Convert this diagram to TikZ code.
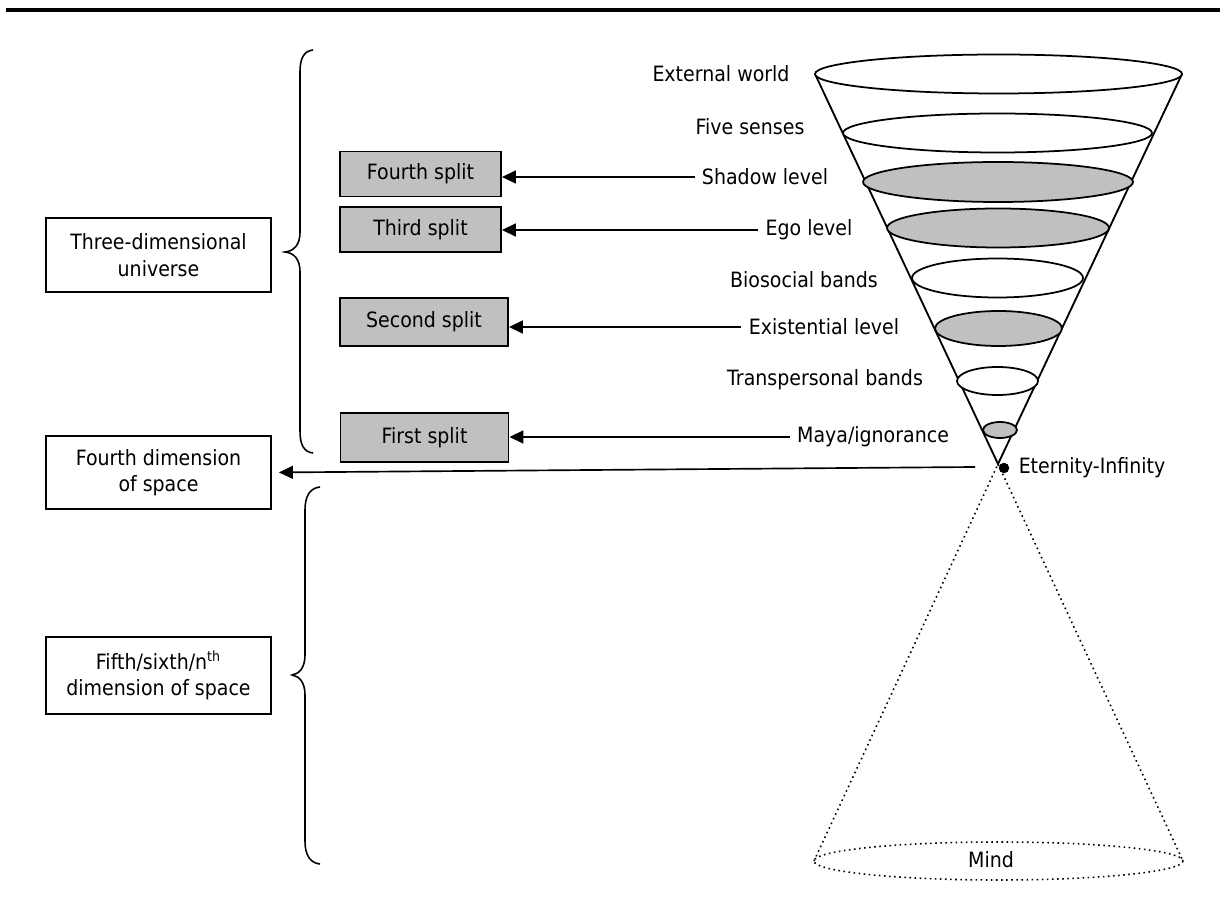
\documentclass[tikz,border=0pt]{standalone}
\usepackage{fontspec}
\setmainfont{DejaVu Sans}[FakeStretch=0.9]
\usetikzlibrary{arrows.meta}
\definecolor{shade}{HTML}{C0C0C0}

\begin{document}
\begin{tikzpicture}[x=0.02cm,y=-0.02cm,
        font=\fontsize{12pt}{15pt}\selectfont,
        level/.style={inner xsep=4pt, inner ysep=0pt},
        splitbox/.style={draw, line width=1.1pt, fill=shade, minimum height=0.9cm},
        dimbox/.style={draw, line width=1.1pt, align=center, minimum width=4.5cm, minimum height=1.48cm},
        arr/.style={line width=0.95pt, -{Triangle[length=0.28cm,width=0.26cm]}},
        band/.style={line width=1pt}]
        \useasboundingbox (0,0) rectangle (1220,911);
        \draw[line width=2pt] (6,10) -- (1220,10);

        % cone and its bands
        \draw[line width=1.05pt] (815,74) -- (998,464) -- (1182,74);
        \draw[dotted, line width=0.9pt] (814,861) -- (998,464) -- (1183,861);
        \draw[dotted, line width=0.9pt] (998.5,861) ellipse [x radius=184.5, y radius=19];
        \draw[band, fill=white] (998.5,74) ellipse [x radius=183.5, y radius=19.5];
        \draw[band, fill=white] (997.5,133) ellipse [x radius=154.5, y radius=19.5];
        \draw[band, fill=shade] (998,182) ellipse [x radius=135, y radius=20];
        \draw[band, fill=shade] (998,228) ellipse [x radius=111, y radius=19.5];
        \draw[band, fill=white] (997.5,278) ellipse [x radius=85.5, y radius=19.5];
        \draw[band, fill=shade] (998.5,328.5) ellipse [x radius=63.5, y radius=17.5];
        \draw[band, fill=white] (997.5,381) ellipse [x radius=40.5, y radius=14];
        \draw[band, fill=shade] (1000,430) ellipse [x radius=17, y radius=8];

        \node[level] (external) at (721,74) {External world};
        \node[level] (five) at (750,127) {Five senses};
        \node[level] (shadow) at (765,177) {Shadow level};
        \node[level] (ego) at (809,230) {Ego level};
        \node[level] (biosocial) at (804,280) {Biosocial bands};
        \node[level] (existential) at (824,327) {Existential level};
        \node[level] (transpersonal) at (825,380) {Transpersonal bands};
        \node[level] (maya) at (873,437) {Maya/ignorance};
        \node[circle, fill, inner sep=0pt, minimum size=0.21cm] (eternitydot) at (1004,468) {};
        \node[level, anchor=west, inner xsep=5pt] (eternity) at (eternitydot.east) {Eternity-Infinity};
        \node (mind) at (991,860) {Mind};

        % splits
        \node[splitbox, minimum width=3.22cm] (split4) at (420.5,174) {Fourth split};
        \node[splitbox, minimum width=3.22cm] (split3) at (420.5,229.5) {Third split};
        \node[splitbox, minimum width=3.36cm, minimum height=0.96cm] (split2) at (424,322) {Second split};
        \node[splitbox, minimum width=3.36cm, minimum height=0.98cm] (split1) at (424.5,437.5) {First split};

        \node[dimbox] (threed) at (158.5,255) {Three-dimensional\\universe};
        \node[dimbox, minimum height=1.46cm] (fourthdim) at (158.5,472.5) {Fourth dimension\\of space};
        \node[dimbox, minimum height=1.54cm] (fifthdim) at (158.5,675.5) {Fifth/sixth/n\textsuperscript{th}\\dimension of space};

        \draw[arr] (shadow.west) -- (shadow.west -| split4.east);
        \draw[arr] (ego.west) -- (ego.west -| split3.east);
        \draw[arr] (existential.west) -- (existential.west -| split2.east);
        \draw[arr] (maya.west) -- (maya.west -| split1.east);
        \coordinate (etstart) at (975,467);
        \draw[arr, shorten >=0.14cm] (etstart) -- (fourthdim.east);

        % braces
        \draw[line width=0.9pt] (313,50) .. controls (304,51) and (300,58) .. (300,72) -- (300,232)
            .. controls (300,245) and (294,251) .. (285,252) .. controls (294,253) and (300,259) .. (300,272)
            -- (300,431) .. controls (300,445) and (304,452) .. (313,453);
        \draw[line width=0.9pt] (320,487) .. controls (310,488) and (305,496) .. (305,510) -- (305,655)
            .. controls (305,668) and (299,674) .. (292,675) .. controls (299,676) and (305,682) .. (305,695)
            -- (305,841) .. controls (305,855) and (310,863) .. (320,864);
\end{tikzpicture}
\end{document}
